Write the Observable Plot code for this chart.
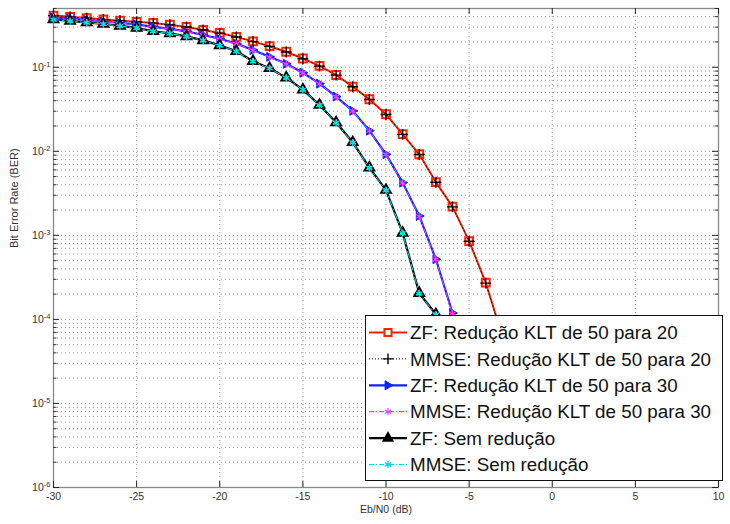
<!DOCTYPE html>
<html><head><meta charset="utf-8">
<script src="https://cdn.jsdelivr.net/npm/d3@7"></script>
<script src="https://cdn.jsdelivr.net/npm/@observablehq/plot@0.6"></script>
<style>
html,body{margin:0;padding:0;background:#fff;}
#wrap{position:relative;width:730px;height:524px;font-family:"Liberation Sans",Arial,sans-serif;}
#legend{position:absolute;left:365px;top:315px;}
</style></head><body><div id="wrap"></div>
<script>
// Eb/N0 (dB) steps for each series
const ebN0_20 = [-30,-29,-28,-27,-26,-25,-24,-23,-22,-21,-20,-19,-18,-17,-16,-15,-14,-13,-12,-11,-10,-9,-8,-7,-6,-5,-4,-3,-2];
const ebN0_30 = [-30,-29,-28,-27,-26,-25,-24,-23,-22,-21,-20,-19,-18,-17,-16,-15,-14,-13,-12,-11,-10,-9,-8,-7,-6,-5];
const ebN0_none = [-30,-29,-28,-27,-26,-25,-24,-23,-22,-21,-20,-19,-18,-17,-16,-15,-14,-13,-12,-11,-10,-9,-8,-7,-6];

// BER values
const zf20   = [0.412,0.398,0.385,0.370,0.358,0.347,0.336,0.321,0.302,0.278,0.256,0.230,0.203,0.178,0.153,0.127,0.104,0.0809,0.0588,0.0416,0.0276,0.0160,0.00922,0.00430,0.00220,0.000854,0.000274,6.3e-5,1.23e-5];
const mmse20 = [0.411,0.397,0.384,0.369,0.357,0.346,0.335,0.320,0.301,0.277,0.255,0.229,0.202,0.177,0.152,0.126,0.103,0.0805,0.0585,0.0414,0.0274,0.0159,0.00915,0.00428,0.00218,0.000850,0.000270,6.2e-5,1.2e-5];
const zf30   = [0.391,0.378,0.365,0.350,0.336,0.323,0.302,0.286,0.267,0.242,0.218,0.191,0.160,0.133,0.110,0.0861,0.0638,0.0448,0.0303,0.0176,0.00922,0.00424,0.00170,0.000520,0.000119,1.95e-5];
const mmse30 = [0.390,0.377,0.364,0.349,0.335,0.322,0.301,0.285,0.266,0.241,0.217,0.190,0.159,0.132,0.109,0.0856,0.0634,0.0445,0.0301,0.0175,0.00915,0.00420,0.00168,0.000515,0.000117,1.9e-5];
const zfNone   = [0.370,0.355,0.341,0.327,0.310,0.294,0.268,0.253,0.233,0.209,0.182,0.155,0.118,0.0973,0.0751,0.0542,0.0355,0.0220,0.0128,0.00638,0.00346,0.00107,0.000205,0.000115,1.41e-5];
const mmseNone = [0.369,0.354,0.340,0.326,0.309,0.293,0.267,0.252,0.232,0.208,0.181,0.154,0.117,0.0968,0.0748,0.0539,0.0353,0.0218,0.0127,0.00634,0.00343,0.00106,0.000203,0.000114,1.4e-5];

// ticks
const xTicks = [-30,-25,-20,-15,-10,-5,0,5,10];
const yDecades = [1e-6,1e-5,1e-4,1e-3,1e-2,1e-1];
const yTop = 0.5;

const legendLabels = [
  "ZF: Redução KLT de 50 para 20",
  "MMSE: Redução KLT de 50 para 20",
  "ZF: Redução KLT de 50 para 30",
  "MMSE: Redução KLT de 50 para 30",
  "ZF: Sem redução",
  "MMSE: Sem redução"
];

const RED = "#ff2200", BLUE = "#0a24ff", MAG = "#ff3cff", CYAN = "#00e2e2";

const rows = (xs, ys) => xs.map((x, i) => ({x, y: ys[i]}));
const dZF20 = rows(ebN0_20, zf20), dMM20 = rows(ebN0_20, mmse20);
const dZF30 = rows(ebN0_30, zf30), dMM30 = rows(ebN0_30, mmse30);
const dZFN = rows(ebN0_none, zfNone), dMMN = rows(ebN0_none, mmseNone);

const triRight = {draw(ctx, size) {
  const h = Math.sqrt(size) * 0.6;
  ctx.moveTo(h * 1.1, 0); ctx.lineTo(-h * 0.65, -h); ctx.lineTo(-h * 0.65, h); ctx.closePath();
}};

const yMinor = [];
for (const d of yDecades) for (let k = 1; k <= 9; k++) { const v = k * d; if (v <= yTop + 1e-12) yMinor.push(v); }
const yGrid = yMinor.filter(v => v > 1.0001e-6 && v < yTop * 0.999);
const yMinorOnly = yMinor.filter(v => !yDecades.includes(v));
const xGrid = xTicks.filter(v => v > -30 && v < 10);

const xMin = -30, xMax = 10, yMin = 1e-6;
const xLenMaj = 6 / 16.625, xLenMin = 3.5 / 16.625, yFac = Math.pow(10, 6 / 84.5);

const chart = Plot.plot({
  width: 730, height: 524,
  marginLeft: 53, marginRight: 12, marginTop: 8, marginBottom: 37,
  style: {fontFamily: "'Liberation Sans', Arial, sans-serif", fontSize: "10.5px", color: "#333", background: "white"},
  x: {domain: [xMin, xMax], ticks: xTicks, tickSize: 0, tickPadding: 5, tickFormat: d => String(d), label: null},
  y: {type: "log", domain: [yMin, yTop], ticks: yDecades, tickSize: 0, tickPadding: 3,
      tickFormat: d => "10^" + Math.round(Math.log10(d)), label: null},
  marks: [
    Plot.ruleY(yGrid, {y: d => d, stroke: "#9a9a9a", strokeDasharray: "1,3"}),
    Plot.ruleX(xGrid, {x: d => d, stroke: "#9a9a9a", strokeDasharray: "1,3"}),
    // ZF 50->20
    Plot.line(dZF20, {x: "x", y: "y", stroke: RED, strokeWidth: 2}),
    Plot.dot(dZF20, {x: "x", y: "y", symbol: "square", r: 4.4, stroke: RED, strokeWidth: 2, fill: "none"}),
    // MMSE 50->20
    Plot.line(dMM20, {x: "x", y: "y", stroke: "#000", strokeWidth: 0.8, strokeDasharray: "1,3"}),
    Plot.dot(dMM20, {x: "x", y: "y", symbol: "plus", r: 3.6, stroke: "#000", strokeWidth: 1.4}),
    // ZF 50->30
    Plot.line(dZF30, {x: "x", y: "y", stroke: BLUE, strokeWidth: 2.2}),
    Plot.dot(dZF30, {x: "x", y: "y", symbol: triRight, r: 4.2, fill: BLUE, stroke: BLUE, strokeWidth: 1}),
    // MMSE 50->30
    Plot.line(dMM30, {x: "x", y: "y", stroke: MAG, strokeWidth: 1, strokeDasharray: "6,3,1.5,3"}),
    Plot.dot(dMM30, {x: "x", y: "y", symbol: "asterisk", r: 3.4, stroke: MAG, strokeWidth: 1.2}),
    // ZF none
    Plot.line(dZFN, {x: "x", y: "y", stroke: "#000", strokeWidth: 2.2}),
    Plot.dot(dZFN, {x: "x", y: "y", symbol: "triangle", r: 3.6, stroke: "#000", strokeWidth: 2, fill: "none"}),
    // MMSE none
    Plot.line(dMMN, {x: "x", y: "y", stroke: CYAN, strokeWidth: 1, strokeDasharray: "6,3,1.5,3"}),
    Plot.dot(dMMN, {x: "x", y: "y", symbol: "asterisk", r: 3.4, stroke: CYAN, strokeWidth: 1.4}),
    // frame and ticks
    Plot.frame({stroke: "#888", strokeWidth: 1.3}),
    Plot.ruleX(xTicks, {x: d => d, y1: yMin, y2: yMin * yFac, stroke: "#222"}),
    Plot.ruleX(xTicks, {x: d => d, y1: yTop, y2: yTop / yFac, stroke: "#222"}),
    Plot.ruleY(yDecades, {y: d => d, x1: xMin, x2: xMin + xLenMaj, stroke: "#222"}),
    Plot.ruleY(yDecades, {y: d => d, x1: xMax, x2: xMax - xLenMaj, stroke: "#222"}),
    Plot.ruleY(yMinorOnly, {y: d => d, x1: xMin, x2: xMin + xLenMin, stroke: "#333"}),
    Plot.ruleY(yMinorOnly, {y: d => d, x1: xMax, x2: xMax - xLenMin, stroke: "#333"}),
    // axis titles
    Plot.text(["Eb/N0 (dB)"], {text: d => d, frameAnchor: "bottom", dy: 25, fontSize: 10.5, fill: "#333"}),
    Plot.text(["Bit Error Rate (BER)"], {text: d => d, frameAnchor: "left", rotate: -90, dx: -39, fontSize: 11, fill: "#333"})
  ]
});

// superscript exponents on y tick labels
d3.select(chart).selectAll('g[aria-label="y-axis tick label"] text').each(function() {
  const t = this.textContent;
  const m = t.match(/^10\^(-?\d+)$/);
  if (!m) return;
  const sel = d3.select(this);
  sel.text(null);
  sel.append("tspan").text("10");
  sel.append("tspan").attr("dy", "-0.5em").attr("font-size", "0.72em").text(m[1]);
});

const wrap = document.getElementById("wrap");
wrap.appendChild(chart);

// legend overlay
const legendStyles = [
  {stroke: RED, w: 2, dash: null, sym: d3.symbolSquare, size: 50, mfill: "white", mstroke: RED, msw: 2},
  {stroke: "#000", w: 1, dash: "1,2", sym: d3.symbolPlus, size: 40, mfill: "none", mstroke: "#000", msw: 1.4},
  {stroke: BLUE, w: 2.2, dash: null, sym: triRight, size: 56, mfill: BLUE, mstroke: BLUE, msw: 1},
  {stroke: MAG, w: 1.2, dash: "5,2,1,2", sym: d3.symbolAsterisk, size: 36, mfill: "none", mstroke: MAG, msw: 1.2},
  {stroke: "#000", w: 2.2, dash: null, sym: d3.symbolTriangle, size: 40, mfill: "#000", mstroke: "#000", msw: 1.5},
  {stroke: CYAN, w: 1.2, dash: "5,2,1,2", sym: d3.symbolAsterisk, size: 36, mfill: "none", mstroke: CYAN, msw: 1.4}
];
const LW = 358, LH = 166;
const leg = d3.select(wrap).append("div").attr("id", "legend")
  .append("svg").attr("width", LW).attr("height", LH)
  .style("font-family", "'Liberation Sans', Arial, sans-serif");
leg.append("rect").attr("x", 0.5).attr("y", 0.5).attr("width", LW - 1).attr("height", LH - 1)
  .attr("fill", "white").attr("stroke", "#111").attr("stroke-width", 1);
legendLabels.forEach((lab, i) => {
  const s = legendStyles[i];
  const cy = 17.5 + i * 26.4;
  const g = leg.append("g");
  g.append("line").attr("x1", 4).attr("x2", 42).attr("y1", cy).attr("y2", cy)
    .attr("stroke", s.stroke).attr("stroke-width", s.w).attr("stroke-dasharray", s.dash);
  g.append("path").attr("d", d3.symbol(s.sym, s.size)()).attr("transform", `translate(23,${cy})`)
    .attr("fill", s.mfill).attr("stroke", s.mstroke).attr("stroke-width", s.msw);
  g.append("text").attr("x", 45).attr("y", cy).attr("dy", "0.36em")
    .attr("font-size", 18.8).attr("fill", "#111").text(lab);
});
</script>
</body></html>
